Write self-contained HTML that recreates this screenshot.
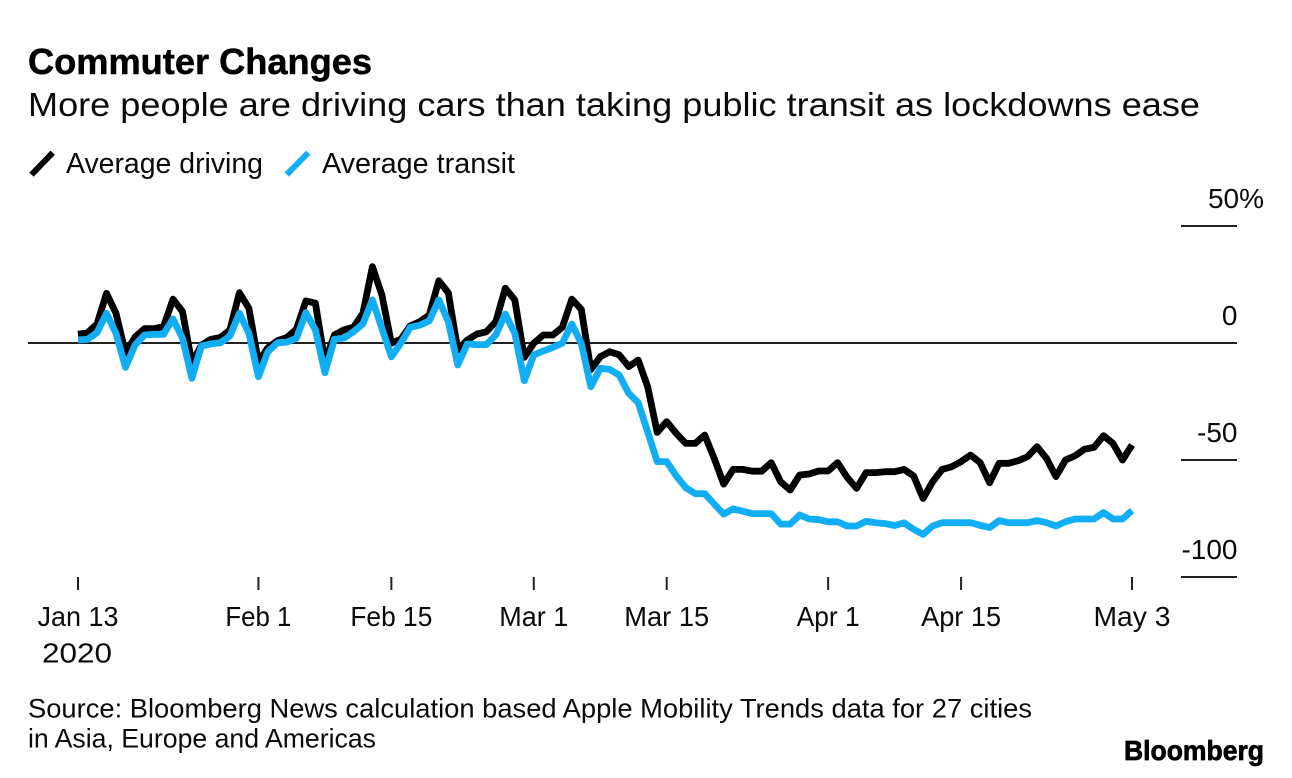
<!DOCTYPE html>
<html>
<head>
<meta charset="utf-8">
<title>Commuter Changes</title>
<style>
html,body{margin:0;padding:0;background:#fff}
svg{display:block}
text{font-family:"Liberation Sans",sans-serif;fill:#0a0a0a}
</style>
</head>
<body>
<svg id="chart" xmlns="http://www.w3.org/2000/svg" width="1292" height="778" viewBox="0 0 1292 778">
  <rect x="0" y="0" width="1292" height="778" fill="#fff"/>
  <text x="28" y="74" font-size="36" font-weight="700" textLength="344" lengthAdjust="spacingAndGlyphs" style="fill:#000;stroke:#000;stroke-width:0.5px">Commuter Changes</text>
  <text x="28" y="116" font-size="33.5" textLength="1172" lengthAdjust="spacingAndGlyphs">More people are driving cars than taking public transit as lockdowns ease</text>
  <g>
    <line x1="31.5" y1="174.7" x2="52.7" y2="152.7" stroke="#000" stroke-width="6"/>
    <text x="66" y="173" font-size="28.5" textLength="197" lengthAdjust="spacingAndGlyphs">Average driving</text>
    <line x1="286.7" y1="174.5" x2="308.3" y2="152.7" stroke="#12aef5" stroke-width="6"/>
    <text x="322" y="173" font-size="28.5" textLength="193" lengthAdjust="spacingAndGlyphs">Average transit</text>
  </g>
  <g id="y-axis"></g>
  <g id="x-axis"></g>
  <g id="series"></g>
  <text x="42" y="662.5" font-size="28" textLength="70" lengthAdjust="spacingAndGlyphs">2020</text>
  <text x="28" y="717.5" font-size="27" textLength="1004" lengthAdjust="spacingAndGlyphs">Source: Bloomberg News calculation based Apple Mobility Trends data for 27 cities</text>
  <text x="28" y="747.5" font-size="27" textLength="348" lengthAdjust="spacingAndGlyphs">in Asia, Europe and Americas</text>
  <text x="1124" y="760" font-size="28" font-weight="700" textLength="140" lengthAdjust="spacingAndGlyphs" style="fill:#000;stroke:#000;stroke-width:0.7px">Bloomberg</text>
</svg>
<script>
// Daily values (percent change) starting Jan 13 2020, index = days since start
const driving = [
  3.7,4.4,8.1,21.2,12.7,-4.4,2.5,6.1,6.1,7,18.7,13.4,-8.6,-0.9,1.6,2.4,5.6,21.5,14.8,-8,
  -2,1,2.4,5.9,18,17,-8,3.4,5.6,6.7,12.7,32.6,20.5,-0.1,1.6,7.3,9.1,12,26.6,21.5,
  -3,1.3,3.8,4.8,9.1,23.4,18.4,-6.1,-0.1,3.4,3.4,6.7,18.7,14.4,-11.3,-5.9,-3.7,-5.1,-10.1,-7.3,
  -18.7,-38.2,-33.6,-38.6,-42.9,-42.9,-39.3,-49.3,-60.3,-54,-54,-54.8,-54.8,-51.1,-59.3,-62.8,-56.4,-56,-54.7,-54.7,
  -51.1,-57.4,-62.1,-55.4,-55.4,-55,-55,-54,-56.8,-66.4,-59.3,-54,-52.9,-50.7,-47.9,-51.1,-59.7,-51.4,-51.4,-50.3,
  -48.6,-44.3,-49.3,-57.1,-50,-48.2,-45.4,-44.6,-39.6,-42.9,-50,-43.6
];
const transit = [
  1.3,1.6,4.4,12.7,4.1,-10.4,-0.9,3.4,3.7,3.7,10.3,2,-15.1,-1.3,-0.4,0.1,3,12.7,4.1,-14.4,
  -3.7,0.1,0.4,2,13,5.6,-12.7,1.6,2.1,4.8,8.1,18.4,6.3,-5.9,-0.1,6.7,7.6,9.5,18.4,9.1,
  -9.4,-0.4,-0.7,-0.7,3.4,12.4,4.1,-16.1,-5.1,-3.4,-1.9,-0.1,8.1,-0.1,-18.7,-10.8,-11.3,-13.7,-21.5,-25.5,
  -38,-50.7,-50.7,-56.8,-61.8,-64.4,-64.4,-68.8,-73.1,-70.9,-71.9,-72.9,-72.9,-72.9,-77.4,-77.4,-73.5,-75.2,-75.5,-76.4,
  -76.4,-78.2,-78.2,-76.2,-76.8,-77.2,-78,-76.9,-79.6,-81.8,-78.2,-76.8,-76.8,-76.8,-76.8,-77.9,-78.9,-75.9,-76.8,-76.8,
  -76.8,-75.9,-76.8,-78.2,-76.4,-75.2,-75.2,-75.2,-72.5,-75.2,-75.2,-71.6
];
const xTickDays = [0,19,33,48,62,79,93,111];
const xTickLabels = ["Jan 13","Feb 1","Feb 15","Mar 1","Mar 15","Apr 1","Apr 15","May 3"];
const yTickValues = [50,0,-50,-100];
const yTickLabels = ["50%","0","-50","-100"];

const NS = "http://www.w3.org/2000/svg";
function xScale(day){ return 78 + (day / 111) * (1132 - 78); }
function yScale(v){ return 343 - v * 2.34; }
// Fit the label widths to the reference typeface
function fitWidth(label){
  const table = {"Jan 13":81,"Feb 1":66,"Feb 15":82,"Mar 1":69,"Mar 15":85,"Apr 1":63,"Apr 15":80,"May 3":77};
  return table[label];
}

const yAxis = document.getElementById("y-axis");
yTickValues.forEach(function(v,i){
  const gl = document.createElementNS(NS,"line");
  
  
  gl.setAttribute("x1", v === 0 ? 28 : 1181);
  gl.setAttribute("x2", 1237);
  gl.setAttribute("y1", yScale(v));
  gl.setAttribute("y2", yScale(v));
  gl.setAttribute("stroke", "#222");
  gl.setAttribute("stroke-width", 2);
  yAxis.appendChild(gl);
  const t = document.createElementNS(NS,"text");
  
  
  t.setAttribute("x", v === 50 ? 1264 : 1237.5);
  t.setAttribute("y", yScale(v) - 18);
  t.setAttribute("font-size", 28);
  t.setAttribute("text-anchor", "end");
  t.textContent = yTickLabels[i];
  yAxis.appendChild(t);
});

const xAxis = document.getElementById("x-axis");
xTickDays.forEach(function(d,i){
  const tk = document.createElementNS(NS,"line");
  
  
  tk.setAttribute("x1", xScale(d));
  tk.setAttribute("x2", xScale(d));
  tk.setAttribute("y1", 577);
  tk.setAttribute("y2", 590);
  tk.setAttribute("stroke", "#222");
  tk.setAttribute("stroke-width", 2);
  xAxis.appendChild(tk);
  const t = document.createElementNS(NS,"text");
  
  
  t.setAttribute("x", xScale(d));
  t.setAttribute("y", 626);
  t.setAttribute("font-size", 28);
  t.setAttribute("text-anchor", "middle");
  t.setAttribute("textLength", fitWidth(xTickLabels[i]));
  t.setAttribute("lengthAdjust", "spacingAndGlyphs");
  t.textContent = xTickLabels[i];
  xAxis.appendChild(t);
});

const seriesGroup = document.getElementById("series");
function toPoints(values){
  return values.map(function(v,i){ return xScale(i).toFixed(1) + "," + yScale(v).toFixed(1); }).join(" ");
}
const drivingLine = document.createElementNS(NS,"polyline");


drivingLine.setAttribute("points", toPoints(driving));
drivingLine.setAttribute("fill", "none");
drivingLine.setAttribute("stroke", "#000");
drivingLine.setAttribute("stroke-width", 6.8);
drivingLine.setAttribute("stroke-linejoin", "round");
seriesGroup.appendChild(drivingLine);
const transitLine = document.createElementNS(NS,"polyline");


transitLine.setAttribute("points", toPoints(transit));
transitLine.setAttribute("fill", "none");
transitLine.setAttribute("stroke", "#12aef5");
transitLine.setAttribute("stroke-width", 6.8);
transitLine.setAttribute("stroke-linejoin", "round");
seriesGroup.appendChild(transitLine);
</script>
</body>
</html>
